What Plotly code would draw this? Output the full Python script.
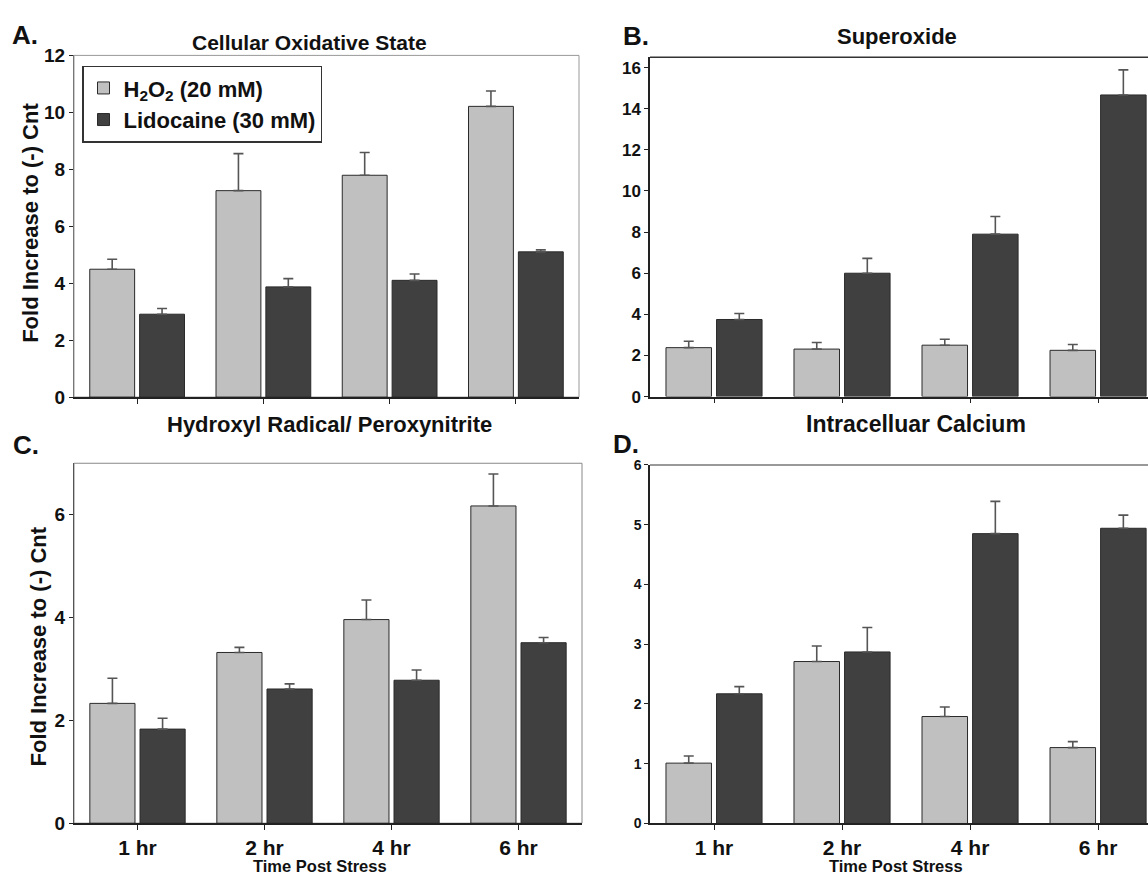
import plotly.graph_objects as go

categories = ["1 hr", "2 hr", "4 hr", "6 hr"]
series_names = ["H<sub>2</sub>O<sub>2</sub> (20 mM)", "Lidocaine (30 mM)"]

# Panel A: Cellular Oxidative State
A_h2o2 = [4.49, 7.25, 7.79, 10.21]
A_h2o2_err = [0.35, 1.30, 0.80, 0.54]
A_lido = [2.91, 3.87, 4.10, 5.10]
A_lido_err = [0.20, 0.29, 0.22, 0.07]

# Panel B: Superoxide
B_h2o2 = [2.38, 2.31, 2.50, 2.25]
B_h2o2_err = [0.31, 0.32, 0.29, 0.28]
B_lido = [3.75, 6.00, 7.90, 14.67]
B_lido_err = [0.29, 0.72, 0.86, 1.22]

# Panel C: Hydroxyl Radical / Peroxynitrite
C_h2o2 = [2.33, 3.32, 3.96, 6.17]
C_h2o2_err = [0.49, 0.10, 0.38, 0.62]
C_lido = [1.83, 2.61, 2.78, 3.51]
C_lido_err = [0.21, 0.10, 0.20, 0.10]

# Panel D: Intracellular Calcium
D_h2o2 = [1.01, 2.71, 1.79, 1.27]
D_h2o2_err = [0.12, 0.26, 0.16, 0.10]
D_lido = [2.17, 2.87, 4.85, 4.94]
D_lido_err = [0.12, 0.41, 0.54, 0.22]

LIGHT = "#c0c0c0"
DARK = "#404040"
FONT = "Liberation Sans, Arial, sans-serif"
W, H = 1148, 883

fig = go.Figure()

panels = [
    ("x", "y", A_h2o2, A_h2o2_err, A_lido, A_lido_err, True),
    ("x2", "y2", B_h2o2, B_h2o2_err, B_lido, B_lido_err, False),
    ("x3", "y3", C_h2o2, C_h2o2_err, C_lido, C_lido_err, False),
    ("x4", "y4", D_h2o2, D_h2o2_err, D_lido, D_lido_err, False),
]

for xa, ya, h, he, l, le, show in panels:
    for name, vals, errs, col in [(series_names[0], h, he, LIGHT), (series_names[1], l, le, DARK)]:
        fig.add_trace(go.Bar(
            x=categories, y=vals, name=name, xaxis=xa, yaxis=ya,
            marker=dict(color=col, line=dict(color="#2a2a2a", width=1)),
            error_y=dict(type="data", symmetric=False, array=errs,
                         arrayminus=[0] * len(errs), color="#555555",
                         thickness=1.6, width=5),
            showlegend=show,
        ))

def px_x(v):
    return v / W

def px_y(v):
    return 1 - v / H

tickfont_y = dict(family=FONT, size=19, color="#111", weight=700)
tickfont_x = dict(family=FONT, size=21, color="#111", weight=700)

common_x = dict(type="category", showline=True, linecolor="#222", linewidth=1.5,
                ticks="outside", ticklen=5, tickcolor="#222", tickwidth=1.2,
                showgrid=False, zeroline=False)
common_y = dict(showline=True, ticks="outside", ticklen=4, tickcolor="#222",
                showgrid=False, zeroline=False)

fig.update_layout(
    width=W, height=H, margin=dict(l=0, r=0, t=0, b=0),
    paper_bgcolor="white", plot_bgcolor="white",
    barmode="group", bargap=0.21, bargroupgap=0.1,
    font=dict(family=FONT, color="#111"),
    xaxis=dict(common_x, domain=[px_x(74), px_x(579)], range=[-0.5, 3.5],
               showticklabels=False, anchor="y"),
    yaxis=dict(common_y, domain=[px_y(396.5), px_y(46.5)], range=[0, 12], dtick=2,
               linecolor="#777", linewidth=1, tickfont=tickfont_y, anchor="x"),
    xaxis2=dict(common_x, domain=[px_x(650), 1.0], range=[-0.5, 3.39],
                showticklabels=False, anchor="y2"),
    yaxis2=dict(common_y, domain=[px_y(396), px_y(48.5)], range=[0, 16.5], dtick=2,
                linecolor="#222", linewidth=1.5,
                tickfont=dict(family=FONT, size=17, color="#111", weight=700), anchor="x2"),
    xaxis3=dict(common_x, domain=[px_x(74), px_x(582)], range=[-0.5, 3.5],
                tickfont=tickfont_x, anchor="y3"),
    yaxis3=dict(common_y, domain=[px_y(833), px_y(464.3)], range=[0, 7], dtick=2,
                linecolor="#555", linewidth=1.2, tickfont=tickfont_y, anchor="x3"),
    xaxis4=dict(common_x, domain=[px_x(650), 1.0], range=[-0.5, 3.39],
                tickfont=tickfont_x, anchor="y4"),
    yaxis4=dict(common_y, domain=[px_y(833.3), px_y(466)], range=[0, 6], dtick=1,
                linecolor="#222", linewidth=1.5,
                tickfont=dict(family=FONT, size=14, color="#111", weight=700), anchor="x4"),
    legend=dict(x=px_x(82), y=px_y(57), xanchor="left", yanchor="top",
                bgcolor="white", bordercolor="#333", borderwidth=1.5,
                font=dict(family=FONT, size=22, color="#111", weight=700),
                tracegroupgap=0, itemwidth=30),
)

# box borders
shapes = [
    dict(type="rect", xref="x domain", yref="y domain", x0=0, x1=1, y0=0, y1=1,
         line=dict(color="#999", width=1), layer="below"),
    dict(type="rect", xref="x3 domain", yref="y3 domain", x0=0, x1=1, y0=0, y1=1,
         line=dict(color="#888", width=1), layer="below"),
    dict(type="line", xref="x2 domain", yref="y2 domain", x0=0, x1=1, y0=1, y1=1,
         line=dict(color="#333", width=1.5)),
    dict(type="line", xref="x4 domain", yref="y4 domain", x0=0, x1=1, y0=1, y1=1,
         line=dict(color="#777", width=1.5)),
]
fig.update_layout(shapes=shapes)

def ann(text, x, y, size, angle=0):
    return dict(text=text, x=px_x(x), y=px_y(y), xref="paper", yref="paper",
                showarrow=False, xanchor="center", yanchor="middle", textangle=angle,
                font=dict(family=FONT, size=size, color="#111", weight=700))

annotations = [
    ann("A.", 25, 26, 26),
    ann("Cellular Oxidative State", 309.5, 33, 21),
    ann("B.", 636, 27, 26),
    ann("Superoxide", 896.5, 27, 22),
    ann("C.", 26, 446, 26),
    ann("Hydroxyl Radical/ Peroxynitrite", 329, 425, 22),
    ann("D.", 626, 445, 26),
    ann("Intracelluar Calcium", 916, 424, 23),
    ann("Fold Increase to (-) Cnt", 31, 218, 22, -90),
    ann("Fold Increase to (-) Cnt", 38, 652, 22, -90),
    ann("Time Post Stress", 320, 877, 16.5),
    ann("Time Post Stress", 896, 877, 16.5),
]
fig.update_layout(annotations=annotations)

fig.write_html("out.html", config={"displayModeBar": False},
               post_script="document.body.style.margin='0';")
